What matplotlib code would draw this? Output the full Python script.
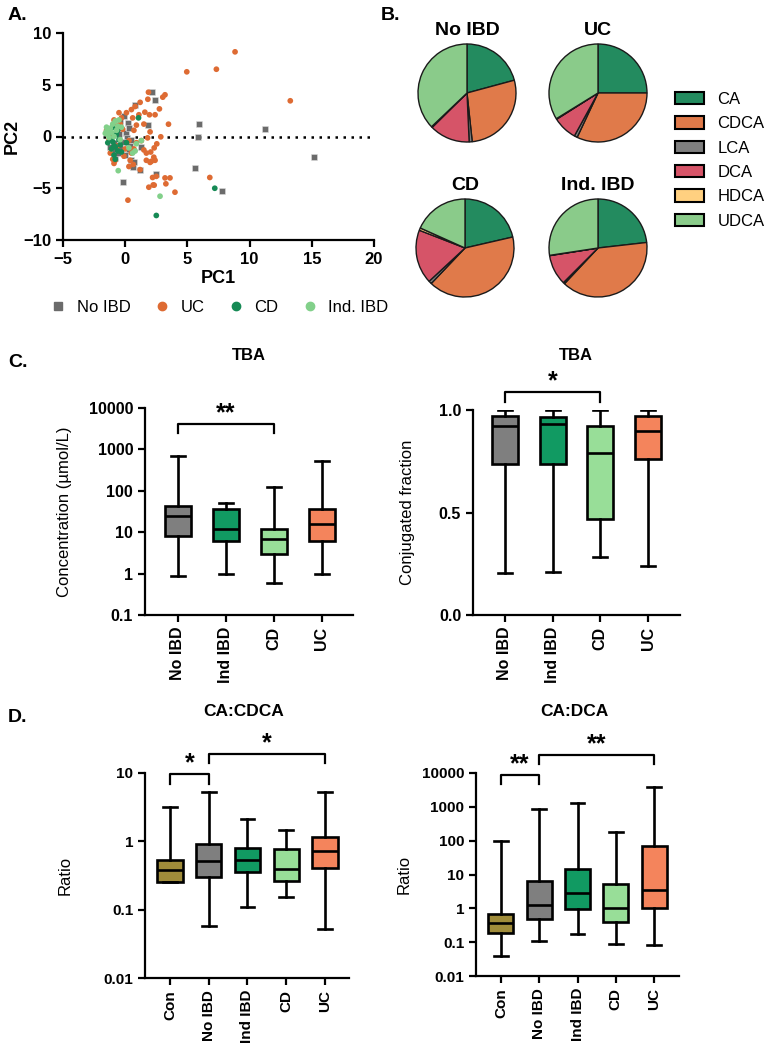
import matplotlib
matplotlib.use("Agg")
import matplotlib.pyplot as plt
from matplotlib.patches import Patch
from matplotlib.lines import Line2D
from matplotlib.ticker import FixedLocator, FuncFormatter, NullLocator

plt.rcParams["font.family"] = ["Liberation Sans", "DejaVu Sans"]
plt.rcParams["font.weight"] = "bold"

# ---------------- data ----------------
# A. PCA scores
noibd_pc1 = [2.14, 2.4, 0.8, -0.13, 0.19, 1.82, 5.9, 5.86, 11.2, 15.2, 5.6, 7.8, 2.46, 1.15,
             -0.2, 0.05, 0.4, 0.32, 0.45, 0.62, 1.28, -0.8, -0.86, -0.38, 0.13, 0.7, -0.5,
             -0.2, -0.6, 0.3, -0.9, -0.4, 0.5, -1.2, 0.0]
noibd_pc2 = [4.28, 3.48, 3.0, 1.96, 1.26, 1.13, 1.16, -0.03, 0.68, -1.97, -3.06, -5.28, -3.64,
             -3.2, -4.4, 0.35, -0.93, -1.42, -2.3, -2.93, -1.0, -2.06, -1.3, -1.1, -0.13, -2.5,
             0.2, -0.5, -1.6, 0.8, -0.6, 1.5, -0.3, -1.0, -1.8]
uc_pc1 = [4.95, 7.33, 8.83, 13.27, 6.8, 4.0, 0.22,
          1.87, 3.02, 3.2, 1.82, 2.75, 1.58, 1.95, 2.4, 3.48, 2.0, 2.86, 1.8, 1.2, 0.8, 1.1,
          0.5, 0.6, 0.9, 1.5, 0.7,
          2.54, 2.33, 2.05, 1.7, 2.3, 2.4, 2.0, 2.1, 1.7, 2.2, 2.5, 3.2, 3.6, 3.27, 2.33, 1.9,
          2.25, 1.2, 0.9, 1.5, 0.5, 0.7, 0.3, 0.4, 0.65, 1.3,
          -0.1, -0.8, -0.9, -1.2, -0.7, -0.4, -0.9, -1.1, -1.3, -0.5, 0.1, -0.2, 0.3, -0.6,
          -1.5, -0.3, 0.0, -1.0]
uc_pc2 = [6.25, 6.5, 8.18, 3.45, -3.96, -5.38, -6.15,
          4.28, 3.8, 4.03, 3.6, 2.67, 2.35, 2.1, 2.1, 1.19, 0.45, -0.03, -0.13, 3.3, 2.9, 2.1,
          2.6, 1.8, 1.1, 1.2, 0.6,
          -0.71, -1.1, -1.5, -1.6, -2.0, -2.3, -2.5, -2.4, -2.3, -3.96, -3.85, -4.0, -4.0,
          -4.57, -4.7, -4.9, -4.68, -3.2, -0.6, -1.3, -1.6, -1.2, -2.9, -2.3, -2.7, -0.4,
          -1.9, -2.3, -2.6, -1.6, 1.0, 1.2, 1.6, 0.3, -0.3, 2.3, 2.3, 0.7, -0.4, -0.9,
          0.6, 1.8, -1.2, -2.2]
cd_pc1 = [1.07, 7.2, 2.5, -1.0, -0.8, -0.6, -1.2, -0.9, -0.5, -1.1, -0.7, -0.4, -1.3, -0.8,
          -0.3, -1.0, -0.6, 0.1, -1.4, -0.9]
cd_pc2 = [1.8, -5.0, -7.63, -0.5, -1.0, -1.4, -0.2, -1.8, -0.3, -1.2, 0.2, -0.8, 0.3, -2.2,
          -1.5, 0.9, 0.6, -0.6, -0.6, -0.9]
ind_pc1 = [-0.56, 2.8, 1.3, 0.9, -1.5, -1.4, -1.2, -1.0, -0.8, -0.6, -1.3, -1.1, -0.7, -0.5,
           -0.9, -1.5, -0.3, 0.3, 0.6, -0.4, -1.6, 0.8]
ind_pc2 = [-3.3, -5.77, -0.4, -0.7, 0.5, 0.2, 0.8, 1.2, 1.5, 1.0, -0.1, 0.4, 0.6, 1.6, 0.0,
           0.9, 0.9, -1.1, -1.6, -0.3, 0.3, -1.4]

# B. bile acid composition (%)
bile_acids = ["CA", "CDCA", "LCA", "DCA", "HDCA", "UDCA"]
ba_colors = ["#238B5F", "#E07A4A", "#7F7F7F", "#D65468", "#FFD080", "#8ACB8A"]
pie_groups = ["No IBD", "UC", "CD", "Ind. IBD"]
pie_noibd = [20.8, 27.5, 1.0, 13.3, 0.3, 37.1]
pie_uc = [25.0, 32.0, 1.0, 8.0, 0.2, 33.8]
pie_cd = [21.4, 40.7, 1.0, 17.8, 0.8, 18.3]
pie_ind = [23.2, 38.8, 0.5, 10.0, 0.1, 27.4]

# C. total bile acids
c_groups = ["No IBD", "Ind IBD", "CD", "UC"]
c_colors = ["#7F7F7F", "#119A62", "#98DE98", "#F4845C"]
tba_lo = [0.88, 0.96, 0.58, 0.98]
tba_q1 = [8.1, 6.2, 2.9, 6.3]
tba_med = [24, 12, 6.8, 15.6]
tba_q3 = [43, 36, 11.8, 37]
tba_hi = [676, 52, 127, 532]

conj_lo = [0.203, 0.208, 0.281, 0.239]
conj_q1 = [0.735, 0.737, 0.467, 0.759]
conj_med = [0.922, 0.933, 0.789, 0.899]
conj_q3 = [0.972, 0.966, 0.922, 0.971]
conj_hi = [1.0, 1.0, 1.0, 1.0]

# D. ratios
d_groups = ["Con", "No IBD", "Ind IBD", "CD", "UC"]
d_colors = ["#A08C3A", "#7F7F7F", "#119A62", "#98DE98", "#F4845C"]
cacdca_lo = [0.257, 0.058, 0.109, 0.153, 0.052]
cacdca_q1 = [0.257, 0.30, 0.35, 0.26, 0.41]
cacdca_med = [0.385, 0.51, 0.54, 0.39, 0.71]
cacdca_q3 = [0.527, 0.92, 0.80, 0.77, 1.17]
cacdca_hi = [3.15, 5.3, 2.15, 1.48, 5.3]

cadca_lo = [0.039, 0.11, 0.18, 0.088, 0.082]
cadca_q1 = [0.19, 0.47, 0.93, 0.40, 0.99]
cadca_med = [0.37, 1.24, 2.75, 1.04, 3.4]
cadca_q3 = [0.66, 6.3, 15, 5.1, 71]
cadca_hi = [98, 883, 1300, 181, 3850]


W, H = 772, 1050


def px_axes(fig, left, top, right, bottom):
    return fig.add_axes([left / W, 1 - bottom / H, (right - left) / W, (bottom - top) / H])


def style_axes(ax, size=10.5):
    for side in ["top", "right"]:
        ax.spines[side].set_visible(False)
    for side in ["left", "bottom"]:
        ax.spines[side].set_linewidth(1.6)
    ax.tick_params(direction="out", length=5, width=1.6, labelsize=size)


def box_panel(ax, groups, colors, lo, q1, med, q3, hi, width, size):
    stats = []
    for g, a, b, c, d, e in zip(groups, lo, q1, med, q3, hi):
        stats.append(dict(label=g, whislo=a, q1=b, med=c, q3=d, whishi=e, fliers=[]))
    pos = list(range(1, len(groups) + 1))
    bp = ax.bxp(stats, positions=pos, widths=width, patch_artist=True, showfliers=False,
                capwidths=width * 0.55,
                boxprops=dict(linewidth=1.9, edgecolor="black"),
                medianprops=dict(color="black", linewidth=1.9),
                whiskerprops=dict(color="black", linewidth=1.9),
                capprops=dict(color="black", linewidth=1.9))
    for patch, col in zip(bp["boxes"], colors):
        patch.set_facecolor(col)
    ax.set_xticks(pos)
    ax.set_xticklabels(groups, rotation=90, fontsize=10.5)
    style_axes(ax, size)


def bracket(ax, x1, x2, y, ylow, text):
    ax.plot([x1, x1, x2, x2], [ylow, y, y, ylow], color="black", lw=1.6, clip_on=False)
    ax.annotate(text, xy=((x1 + x2) / 2, y), xytext=(0, 2.5), textcoords="offset points",
                ha="center", va="baseline", fontsize=18, fontweight="bold",
                annotation_clip=False)


def log_ticks(ax, ticks):
    ax.set_yscale("log")
    ax.set_ylim(ticks[0], ticks[-1])
    ax.yaxis.set_major_locator(FixedLocator(ticks))
    ax.yaxis.set_major_formatter(FuncFormatter(lambda v, p: f"{v:g}"))
    ax.yaxis.set_minor_locator(NullLocator())


fig = plt.figure(figsize=(W / 100, H / 100), dpi=100)

# ---------------- A ----------------
axA = px_axes(fig, 63, 33, 374, 240)
axA.axhline(0, color="black", lw=1.8, ls=(0, (1, 2.2)))
axA.scatter(noibd_pc1, noibd_pc2, marker="s", s=18, color="#6B6B6B", edgecolors="#DDDDDD",
            linewidths=0.4, zorder=3)
axA.scatter(uc_pc1, uc_pc2, marker="o", s=17, color="#DE6B33", edgecolors="none", zorder=3)
axA.scatter(cd_pc1, cd_pc2, marker="o", s=17, color="#168A55", edgecolors="none", zorder=4)
axA.scatter(ind_pc1, ind_pc2, marker="o", s=17, color="#82D08A", edgecolors="none", zorder=5)
axA.set_xlim(-5, 20)
axA.set_ylim(-10, 10)
axA.set_xticks([-5, 0, 5, 10, 15, 20])
axA.set_yticks([-10, -5, 0, 5, 10])
style_axes(axA, size=12)
axA.set_xlabel("PC1", fontsize=13, fontweight="bold", labelpad=2)
axA.set_ylabel("PC2", fontsize=13, fontweight="bold")
axA.yaxis.set_label_coords(-0.135, 0.5)

legA = [Line2D([], [], ls="", marker="s", ms=6, color="#6B6B6B"),
        Line2D([], [], ls="", marker="o", ms=6, color="#DE6B33"),
        Line2D([], [], ls="", marker="o", ms=6, color="#168A55"),
        Line2D([], [], ls="", marker="o", ms=6, color="#82D08A")]
fig.legend(legA, ["No IBD", "UC", "CD", "Ind. IBD"], loc="center",
           bbox_to_anchor=(220 / W, 1 - 307 / H), ncol=4, frameon=False,
           prop=dict(size=12, weight="normal"), handlelength=0.8, handletextpad=0.7,
           columnspacing=1.5)

# ---------------- B ----------------
pie_data = [pie_noibd, pie_uc, pie_cd, pie_ind]
centers = [(467, 93), (598, 93), (465, 248), (598, 248)]
r = 50
for name, vals, (cx, cy) in zip(pie_groups, pie_data, centers):
    ax = px_axes(fig, cx - r, cy - r, cx + r, cy + r)
    ax.pie(vals, colors=ba_colors, startangle=90, counterclock=False, radius=0.98,
           wedgeprops=dict(edgecolor="#1A1A1A", linewidth=1.0))
    ax.set_xlim(-1, 1)
    ax.set_ylim(-1, 1)
    ax.set_title(name, fontsize=14, fontweight="bold", pad=6)

legB = [Patch(facecolor=c, edgecolor="black", linewidth=1.5) for c in ba_colors]
fig.legend(legB, bile_acids, loc="upper left", bbox_to_anchor=(675 / W, 1 - 92 / H),
           frameon=False, prop=dict(size=12, weight="normal"), borderpad=0,
           borderaxespad=0, handlelength=1.75, handleheight=0.75, handletextpad=0.8,
           labelspacing=0.56)

# ---------------- C ----------------
axC1 = px_axes(fig, 145, 408, 353, 615)
box_panel(axC1, c_groups, c_colors, tba_lo, tba_q1, tba_med, tba_q3, tba_hi, 0.54, 11.5)
log_ticks(axC1, [0.1, 1, 10, 100, 1000, 10000])
axC1.set_xlim(0.32, 4.65)
axC1.set_ylabel("Concentration (µmol/L)", fontsize=12, fontweight="normal")
axC1.yaxis.set_label_coords(-0.35, 0.5)
bracket(axC1, 1, 3, 4170, 2480, "**")

axC2 = px_axes(fig, 473, 410, 680, 615)
box_panel(axC2, c_groups, c_colors, conj_lo, conj_q1, conj_med, conj_q3, conj_hi, 0.54, 11.5)
axC2.set_ylim(0, 1.0)
axC2.set_yticks([0.0, 0.5, 1.0])
axC2.set_yticklabels(["0.0", "0.5", "1.0"])
axC2.set_xlim(0.33, 4.67)
axC2.set_ylabel("Conjugated fraction", fontsize=12, fontweight="normal")
axC2.yaxis.set_label_coords(-0.28, 0.5)
bracket(axC2, 1, 3, 1.089, 1.04, "*")

fig.text(249 / W, 1 - 355 / H, "TBA", ha="center", va="center", fontsize=12)
fig.text(576 / W, 1 - 355 / H, "TBA", ha="center", va="center", fontsize=12)

# ---------------- D ----------------
axD1 = px_axes(fig, 145, 773, 349, 978)
box_panel(axD1, d_groups, d_colors, cacdca_lo, cacdca_q1, cacdca_med, cacdca_q3,
          cacdca_hi, 0.65, 11)
log_ticks(axD1, [0.01, 0.1, 1, 10])
axD1.set_xlim(0.355, 5.62)
axD1.set_ylabel("Ratio", fontsize=12, fontweight="normal")
axD1.yaxis.set_label_coords(-0.353, 0.5)
bracket(axD1, 1, 2, 9.67, 6.9, "*")
bracket(axD1, 2, 5, 19, 14, "*")

axD2 = px_axes(fig, 476, 773, 679, 976)
box_panel(axD2, d_groups, d_colors, cadca_lo, cadca_q1, cadca_med, cadca_q3, cadca_hi,
          0.65, 11)
log_ticks(axD2, [0.01, 0.1, 1, 10, 100, 1000, 10000])
axD2.set_xlim(0.35, 5.65)
axD2.set_ylabel("Ratio", fontsize=12, fontweight="normal")
axD2.yaxis.set_label_coords(-0.315, 0.5)
bracket(axD2, 1, 2, 8890, 4820, "**")
bracket(axD2, 2, 5, 34600, 18800, "**")

fig.text(244 / W, 1 - 712 / H, "CA:CDCA", ha="center", va="center", fontsize=12.5)
fig.text(574 / W, 1 - 712 / H, "CA:DCA", ha="center", va="center", fontsize=12.5)

# panel letters
for letter, x, y in [("A.", 8, 15), ("B.", 381, 15), ("C.", 8, 362), ("D.", 8, 718)]:
    fig.text(x / W, 1 - y / H, letter, ha="left", va="center", fontsize=14)

fig.savefig("out.png", dpi=100)
